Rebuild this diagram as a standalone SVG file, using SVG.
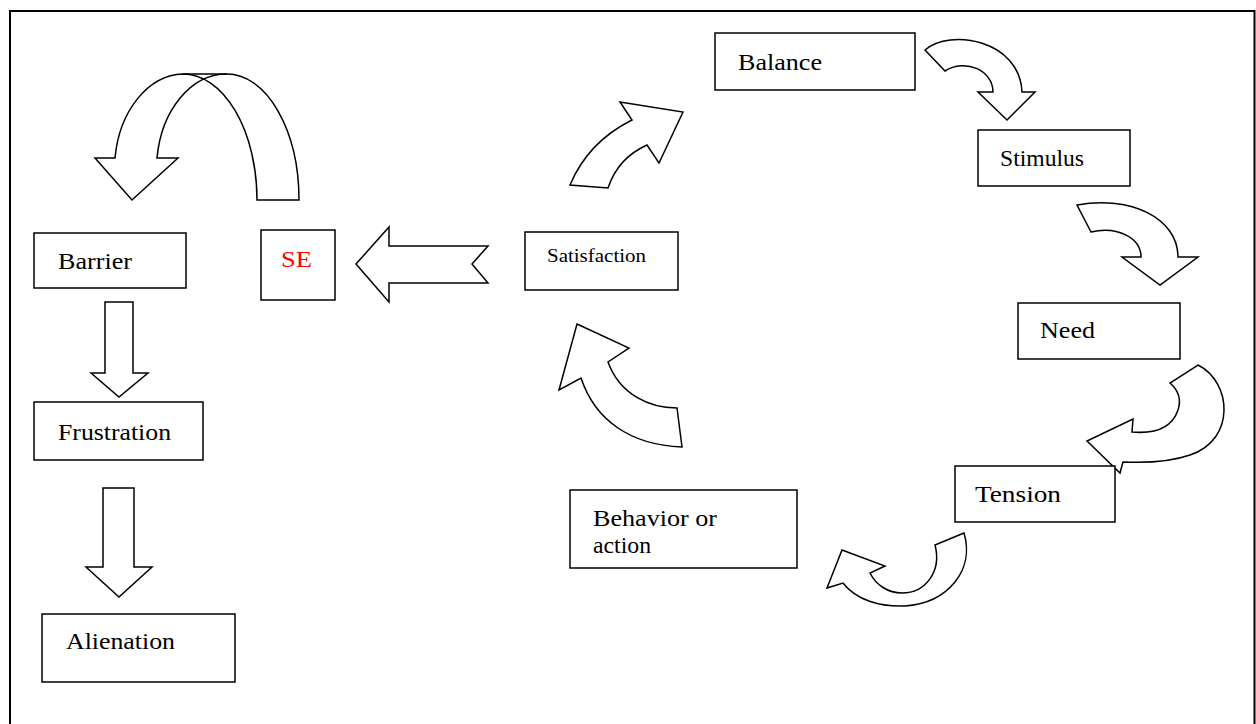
<svg xmlns="http://www.w3.org/2000/svg" width="1256" height="724" viewBox="0 0 1256 724">
<style>
.box{fill:#fff;stroke:#000;stroke-width:1.5}
.arr{fill:#fff;stroke:#000;stroke-width:1.5;stroke-linejoin:miter}
.t{font-family:"Liberation Serif","Times New Roman",serif;font-size:24px;fill:#000}
.s{font-size:19px}
.red{fill:#ff0000}
</style>
<rect x="0" y="0" width="1256" height="724" fill="#fff"/>
<rect x="10" y="11" width="1244.5" height="720" fill="none" stroke="#000" stroke-width="2"/>
<g id="connectors">
<path class="arr" d="M95,158 L132,200 L178,158 L157,158 A70,96 0 0 1 227,74 A72,126 0 0 1 299,200 L257,200 A74,126 0 0 0 183,74 A70,96 0 0 0 115,158 Z"/>
<path class="arr" d="M183,74 L227,74"/>
<path class="arr" d="M570,185 Q588,142 632,120 L620,102 L683,112 L659,163 L647,145 Q618,158 608,188 Z"/>
<path class="arr" d="M925,50 C950,28 1020,40 1022,92 L1035,92 L1007,120 L978,92 L993,92 C993,70 965,58 945,71 Z"/>
<path class="arr" d="M1077,205 C1130,195 1178,218 1178,257 L1198,257 L1160,285 L1122,257 L1141,257 C1141,238 1118,226 1091,232 Z"/>
<path class="arr" d="M1198,365 C1232,382 1236,440 1190,455 C1170,462 1145,463 1123,462 L1120,473 L1087,441 L1133,419 L1132,432 C1155,434 1172,428 1178,410 C1182,398 1178,390 1170,383 Z"/>
<path class="arr" d="M964,533 L935,545 C942,572 925,593 902,593 C888,593 876,585 870,573 L885,566 L842,550 L827,588 L843,583 C856,600 880,607 905,606 C948,603 975,570 964,533 Z"/>
<path class="arr" d="M577,324 L629,348 L608,362 C620,395 650,408 677,408 L682,447 C630,445 595,420 581,378 L559,390 Z"/>
<path class="arr" d="M356,264 L389,227 L389,246 L488,246 L472,264 L488,283 L389,283 L389,302 Z"/>
<path class="arr" d="M105,302 L133,302 L133,373 L148,373 L119,397 L91,373 L105,373 Z"/>
<path class="arr" d="M103,488 L134,488 L134,567 L152,567 L119,597 L86,567 L103,567 Z"/>
</g>
<g id="balance"><rect class="box" x="715" y="33" width="200" height="57"/><text class="t" x="738" y="70" textLength="84" lengthAdjust="spacingAndGlyphs">Balance</text></g>
<g id="stimulus"><rect class="box" x="978" y="130" width="152" height="56"/><text class="t" x="1000" y="166" textLength="84" lengthAdjust="spacingAndGlyphs">Stimulus</text></g>
<g id="need"><rect class="box" x="1018" y="303" width="162" height="56"/><text class="t" x="1040" y="338" textLength="55" lengthAdjust="spacingAndGlyphs">Need</text></g>
<g id="tension"><rect class="box" x="955" y="466" width="160" height="56"/><text class="t" x="975" y="502" textLength="86" lengthAdjust="spacingAndGlyphs">Tension</text></g>
<g id="behavior"><rect class="box" x="570" y="490" width="227" height="78"/><text class="t" x="593" y="526" textLength="124" lengthAdjust="spacingAndGlyphs">Behavior or</text><text class="t" x="593" y="553" textLength="58" lengthAdjust="spacingAndGlyphs">action</text></g>
<g id="satisfaction"><rect class="box" x="525" y="232" width="153" height="58"/><text class="t s" x="547" y="262" textLength="99" lengthAdjust="spacingAndGlyphs">Satisfaction</text></g>
<g id="se"><rect class="box" x="261" y="230" width="74" height="70"/><text class="t red" x="281" y="267" textLength="31" lengthAdjust="spacingAndGlyphs">SE</text></g>
<g id="barrier"><rect class="box" x="34" y="233" width="152" height="55"/><text class="t" x="58" y="269" textLength="74" lengthAdjust="spacingAndGlyphs">Barrier</text></g>
<g id="frustration"><rect class="box" x="34" y="402" width="169" height="58"/><text class="t" x="58" y="440" textLength="113" lengthAdjust="spacingAndGlyphs">Frustration</text></g>
<g id="alienation"><rect class="box" x="42" y="614" width="193" height="68"/><text class="t" x="66" y="649" textLength="109" lengthAdjust="spacingAndGlyphs">Alienation</text></g>
</svg>
